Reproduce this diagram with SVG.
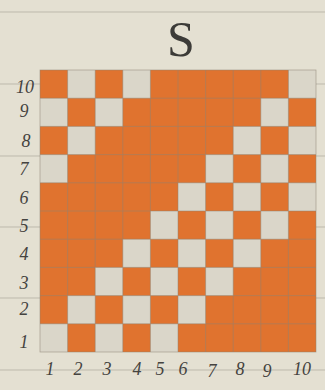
<svg xmlns="http://www.w3.org/2000/svg" width="325" height="390" viewBox="0 0 325 390">
<style>
.rule{stroke:#BDB9AC;stroke-width:1}
.lt{fill:#DAD6C9}
.grid{stroke:#8E8476;stroke-width:0.7;fill:none;opacity:0.7}
.num{font-family:"Liberation Serif",serif;font-style:italic;font-size:18px;fill:#454340;text-anchor:middle}
.title{font-family:"Liberation Serif",serif;font-size:50px;fill:#3C3B38;text-anchor:middle}
</style>
<rect width="325" height="390" fill="#E4E0D2"/>
<g id="rules">
<line class="rule" x1="0" y1="12" x2="325" y2="12"/>
<line class="rule" x1="0" y1="84" x2="40" y2="84"/>
<line class="rule" x1="0" y1="156" x2="40" y2="156"/>
<line class="rule" x1="0" y1="227" x2="40" y2="227"/>
<line class="rule" x1="0" y1="298" x2="40" y2="298"/>
<line class="rule" x1="0" y1="370" x2="325" y2="370"/>
<line class="rule" x1="316" y1="84" x2="325" y2="84"/>
<line class="rule" x1="316" y1="156" x2="325" y2="156"/>
<line class="rule" x1="316" y1="227" x2="325" y2="227"/>
<line class="rule" x1="316" y1="298" x2="325" y2="298"/>
</g>
<text id="title" class="title" x="181" y="56">S</text>
<g id="board">
<rect x="40" y="70" width="276" height="282" fill="#E0732F"/>
<rect class="lt" x="67.6" y="70" width="27.6" height="28.2"/>
<rect class="lt" x="122.8" y="70" width="27.6" height="28.2"/>
<rect class="lt" x="288.4" y="70" width="27.6" height="28.2"/>
<rect class="lt" x="40" y="98.2" width="27.6" height="28.2"/>
<rect class="lt" x="95.2" y="98.2" width="27.6" height="28.2"/>
<rect class="lt" x="260.8" y="98.2" width="27.6" height="28.2"/>
<rect class="lt" x="67.6" y="126.4" width="27.6" height="28.2"/>
<rect class="lt" x="233.2" y="126.4" width="27.6" height="28.2"/>
<rect class="lt" x="288.4" y="126.4" width="27.6" height="28.2"/>
<rect class="lt" x="40" y="154.6" width="27.6" height="28.2"/>
<rect class="lt" x="205.6" y="154.6" width="27.6" height="28.2"/>
<rect class="lt" x="260.8" y="154.6" width="27.6" height="28.2"/>
<rect class="lt" x="178" y="182.8" width="27.6" height="28.2"/>
<rect class="lt" x="233.2" y="182.8" width="27.6" height="28.2"/>
<rect class="lt" x="288.4" y="182.8" width="27.6" height="28.2"/>
<rect class="lt" x="150.4" y="211" width="27.6" height="28.2"/>
<rect class="lt" x="205.6" y="211" width="27.6" height="28.2"/>
<rect class="lt" x="260.8" y="211" width="27.6" height="28.2"/>
<rect class="lt" x="122.8" y="239.2" width="27.6" height="28.2"/>
<rect class="lt" x="178" y="239.2" width="27.6" height="28.2"/>
<rect class="lt" x="233.2" y="239.2" width="27.6" height="28.2"/>
<rect class="lt" x="95.2" y="267.4" width="27.6" height="28.2"/>
<rect class="lt" x="150.4" y="267.4" width="27.6" height="28.2"/>
<rect class="lt" x="205.6" y="267.4" width="27.6" height="28.2"/>
<rect class="lt" x="67.6" y="295.6" width="27.6" height="28.2"/>
<rect class="lt" x="122.8" y="295.6" width="27.6" height="28.2"/>
<rect class="lt" x="178" y="295.6" width="27.6" height="28.2"/>
<rect class="lt" x="40" y="323.8" width="27.6" height="28.2"/>
<rect class="lt" x="95.2" y="323.8" width="27.6" height="28.2"/>
<rect class="lt" x="150.4" y="323.8" width="27.6" height="28.2"/>
</g>
<g id="gridlines" class="grid">
<rect x="40" y="70" width="276" height="282"/>
<path d="M67.6 70V352M95.2 70V352M122.8 70V352M150.4 70V352M178 70V352M205.6 70V352M233.2 70V352M260.8 70V352M288.4 70V352"/>
<path d="M40 98.2H316M40 126.4H316M40 154.6H316M40 182.8H316M40 211H316M40 239.2H316M40 267.4H316M40 295.6H316M40 323.8H316"/>
</g>
<g id="row-labels">
<text class="num" x="25" y="93">10</text>
<text class="num" x="24" y="117">9</text>
<text class="num" x="26" y="147">8</text>
<text class="num" x="24" y="175">7</text>
<text class="num" x="24" y="204">6</text>
<text class="num" x="24" y="232">5</text>
<text class="num" x="24" y="260">4</text>
<text class="num" x="24" y="289">3</text>
<text class="num" x="24" y="315">2</text>
<text class="num" x="24" y="348">1</text>
</g>
<g id="col-labels">
<text class="num" x="50" y="375">1</text>
<text class="num" x="78" y="375">2</text>
<text class="num" x="107" y="375">3</text>
<text class="num" x="137" y="375">4</text>
<text class="num" x="160" y="375">5</text>
<text class="num" x="183" y="375">6</text>
<text class="num" x="212" y="377">7</text>
<text class="num" x="240" y="375">8</text>
<text class="num" x="267" y="377">9</text>
<text class="num" x="302" y="375">10</text>
</g>
</svg>
